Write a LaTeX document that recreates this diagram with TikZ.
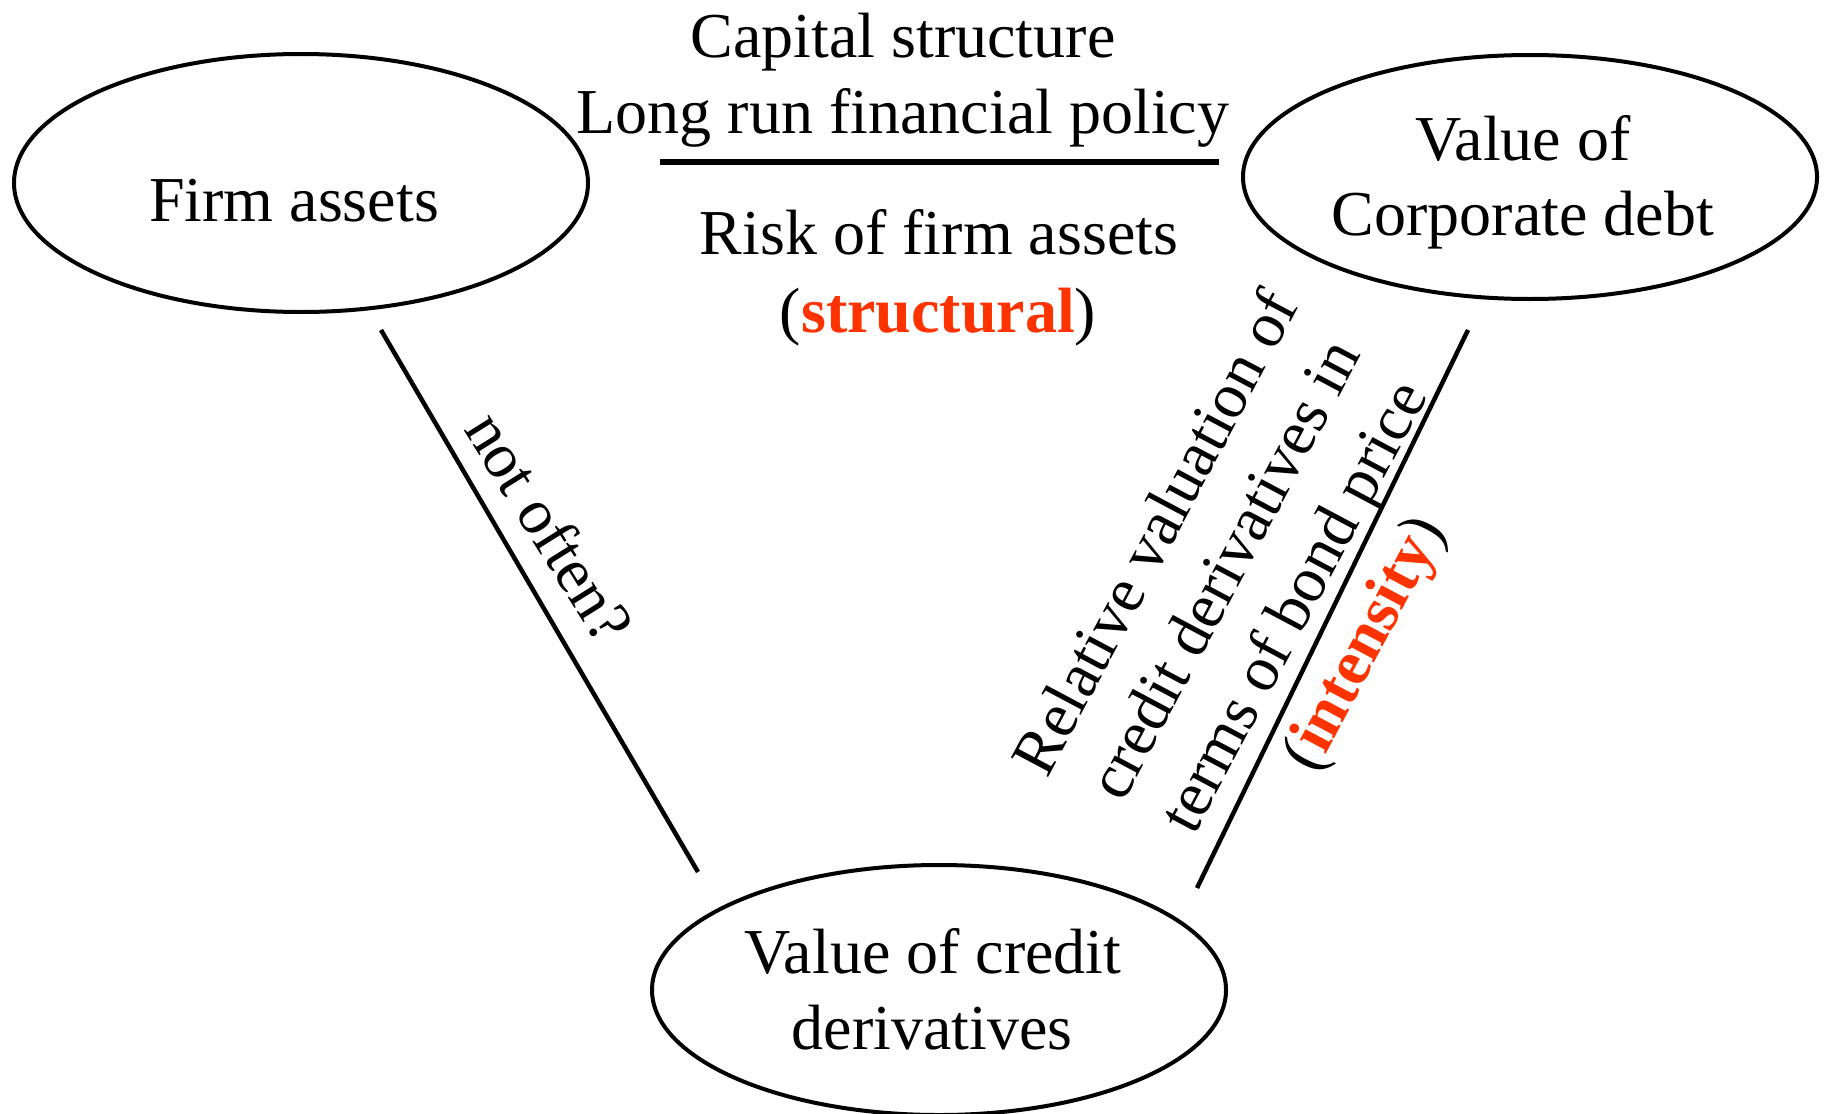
\documentclass[tikz,border=0pt]{standalone}
\usepackage{fontspec}
\setmainfont{Liberation Serif}
\usetikzlibrary{shapes.geometric}
\definecolor{accent}{RGB}{255,51,0}
\begin{document}
\begin{tikzpicture}[x=1pt,y=-1pt,
  txt/.style={font=\fontsize{64}{78}\selectfont, inner sep=0pt},
  oval/.style={draw, ellipse, line width=4pt, minimum width=574pt, minimum height=250pt, inner sep=0pt},
  link/.style={line width=4.5pt}]
\useasboundingbox (0,0) rectangle (1827,1113);

% the three quantities
\node[oval, minimum height=258pt] (fa) at (301,183) {};
\node[oval, minimum height=244pt] (cd) at (1530,177) {};
\node[oval] (vd) at (939,990) {};

\node[txt, anchor=base] (fat) at (294,221) {Firm assets};
\node[txt, anchor=base] (cdt1) at (1523,160) {Value of};
\node[txt, anchor=base] (cdt2) at (1523,235) {Corporate debt};
\node[txt, anchor=base] (vdt1) at (933,973) {Value of credit};
\node[txt, anchor=base] (vdt2) at (932,1049) {derivatives};

% top relation: the fraction
\node[txt, anchor=base] (cap) at (903,58) {Capital structure};
\node[txt, anchor=base] (lrp) at (903,134) {Long run financial policy};
\coordinate (r1) at (660,162);
\coordinate (r2) at (1219,162);
\draw[line width=5.5pt] (r1) -- (r2);
\node[txt, anchor=base] (rfa) at (939,254) {Risk of firm assets};
\node[txt, anchor=base] (stc) at (938,332) {(\textbf{\textcolor{accent}{structural}})};

% left relation
\coordinate (l1) at (381,330);
\coordinate (l2) at (698,872);
\draw[link] (l1) -- (l2);
\node[txt, rotate=-58] (nof) at (550,527) {not often?};

% right relation
\coordinate (q1) at (1468,330);
\coordinate (q2) at (1197,888);
\draw[link] (q1) -- (q2);
\node[txt, rotate=62, align=center] (rel) at (1263,590)
  {Relative valuation of\\credit derivatives in\\terms of bond price\\(\textbf{\textcolor{accent}{intensity}})};
\end{tikzpicture}
\end{document}
